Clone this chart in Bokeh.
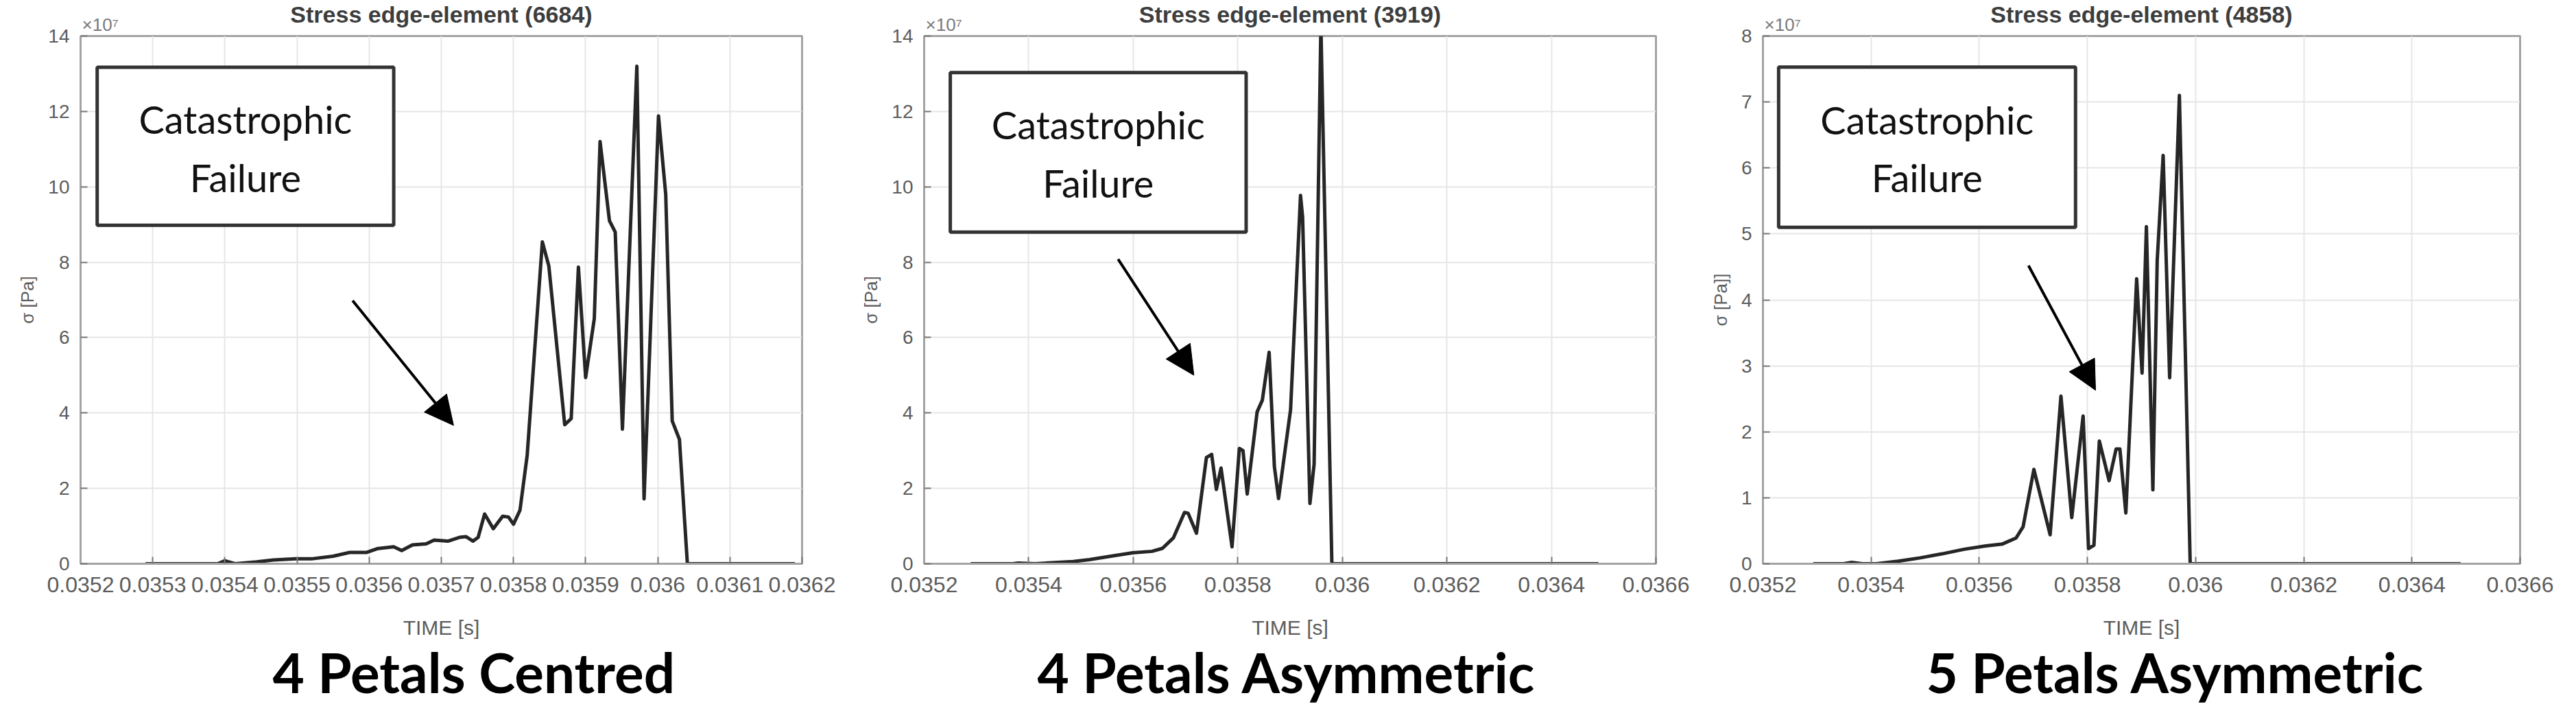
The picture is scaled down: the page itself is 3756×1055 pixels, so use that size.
from bokeh.plotting import figure
from bokeh.layouts import row
from bokeh.models import Range1d, FixedTicker, Label, BoxAnnotation, Arrow, NormalHead, Title
from bokeh.embed import file_html
from bokeh.resources import INLINE

# ---------------- data (stress in units of 1e7 Pa, time in s) ----------------
time_6684 = [0.03529, 0.03539, 0.03540, 0.035414, 0.035444, 0.035467, 0.035498, 0.03552,
             0.03555, 0.035573, 0.035596, 0.035611, 0.035634, 0.035645, 0.03566, 0.035679,
             0.03569, 0.035709, 0.035725, 0.035734, 0.035744, 0.035751, 0.03576, 0.035772,
             0.035785, 0.035793, 0.0358, 0.035809, 0.035819, 0.03584, 0.035849, 0.035871,
             0.03588, 0.03589, 0.0359, 0.035912, 0.03592, 0.035933, 0.035941, 0.035951,
             0.035971, 0.035981, 0.036001, 0.036011, 0.03602, 0.03603, 0.036041, 0.03619]
stress_6684 = [0, 0, 0.08, 0.0, 0.05, 0.1, 0.13, 0.13,
               0.2, 0.3, 0.3, 0.4, 0.45, 0.35, 0.5, 0.53,
               0.63, 0.6, 0.7, 0.72, 0.6, 0.7, 1.32, 0.93,
               1.26, 1.24, 1.05, 1.42, 2.88, 8.54, 7.9, 3.69,
               3.85, 7.87, 4.94, 6.5, 11.2, 9.1, 8.8, 3.57,
               13.2, 1.72, 11.88, 9.8, 3.79, 3.3, 0, 0]

time_3919 = [0.035289, 0.03537, 0.03538, 0.035412, 0.035485, 0.035516, 0.035557, 0.035599,
             0.035636, 0.035656, 0.035677, 0.035698, 0.035705, 0.035721, 0.03574, 0.03575,
             0.035759, 0.035768, 0.035789, 0.035803, 0.03581, 0.035818, 0.035837, 0.035847,
             0.03586, 0.03587, 0.035878, 0.035901, 0.03592, 0.035924, 0.035938, 0.035946,
             0.035959, 0.03598, 0.03649]
stress_3919 = [0, 0, 0.02, 0, 0.06, 0.11, 0.2, 0.29,
               0.33, 0.41, 0.69, 1.36, 1.34, 0.81, 2.82, 2.9,
               1.97, 2.54, 0.45, 3.06, 3.0, 1.85, 4.03, 4.34,
               5.61, 2.58, 1.73, 4.09, 9.77, 9.2, 1.6, 2.64,
               14.3, 0, 0]

time_4858 = [0.035293, 0.035349, 0.035364, 0.035384, 0.03541, 0.03545, 0.035491, 0.035531,
             0.035572, 0.035612, 0.035643, 0.035668, 0.035681, 0.035701, 0.035731, 0.035751,
             0.035771, 0.035792, 0.035802, 0.035812, 0.035822, 0.03584, 0.035853, 0.03586,
             0.035871, 0.035891, 0.035901, 0.035909, 0.035921, 0.035929, 0.03594, 0.035952,
             0.03597, 0.03599, 0.03649]
stress_4858 = [0, 0, 0.02, 0, 0, 0.04, 0.09, 0.15,
               0.22, 0.27, 0.3, 0.39, 0.56, 1.43, 0.44, 2.54,
               0.7, 2.24, 0.23, 0.28, 1.86, 1.26, 1.74, 1.74,
               0.77, 4.32, 2.89, 5.11, 1.12, 4.6, 6.19, 2.82,
               7.1, 0, 0]

x_ticks_a = [0.0352, 0.0353, 0.0354, 0.0355, 0.0356, 0.0357, 0.0358, 0.0359, 0.036, 0.0361, 0.0362]
x_tick_labels_a = ["0.0352", "0.0353", "0.0354", "0.0355", "0.0356", "0.0357", "0.0358",
                   "0.0359", "0.036", "0.0361", "0.0362"]
x_ticks_b = [0.0352, 0.0354, 0.0356, 0.0358, 0.036, 0.0362, 0.0364, 0.0366]
x_tick_labels_b = ["0.0352", "0.0354", "0.0356", "0.0358", "0.036", "0.0362", "0.0364", "0.0366"]
y_ticks_a = [0, 2, 4, 6, 8, 10, 12, 14]
y_ticks_b = [0, 1, 2, 3, 4, 5, 6, 7, 8]

titles = ["Stress edge-element (6684)", "Stress edge-element (3919)", "Stress edge-element (4858)"]
captions = ["4 Petals Centred", "4 Petals Asymmetric", "5 Petals Asymmetric"]
y_labels = ["σ [Pa]", "σ [Pa]", "σ [Pa]]"]
x_label = "TIME [s]"
exponent = "×10⁷"
box_lines = ["Catastrophic", "Failure"]

# ---------------- styling helpers ----------------
AX_COL = "#a3a3a3"
TXT_COL = "#5c5c5c"
TICK_FONT = "Liberation Sans"


def panel(t, s, xr, yr, xticks, xlabels, yticks, title, caption, ylabel,
          width, left, right, top, frame_h, box, arrow, caption_dx):
    height = 1039
    p = figure(width=width, height=height, output_backend="svg", toolbar_location=None,
               x_range=Range1d(*xr), y_range=Range1d(*yr), title=title,
               min_border_left=left, min_border_right=right,
               min_border_top=top, min_border_bottom=height - top - frame_h,
               background_fill_color="white", border_fill_color="white")
    p.outline_line_color = AX_COL
    p.outline_line_width = 3

    # panel title (outermost)
    p.title.align = "center"
    p.title.standoff = -47
    p.title.text_font = TICK_FONT
    p.title.text_font_size = "34px"
    p.title.text_font_style = "bold"
    p.title.text_color = "#3d3d3d"
    # exponent marker (nearest the frame)
    p.add_layout(Title(text=exponent, align="left", offset=2, standoff=4,
                       text_font=TICK_FONT, text_font_size="26px",
                       text_font_style="normal", text_color="#7a7a7a"), "above")

    p.line(t, s, line_color="#262626", line_width=5, line_join="round")

    for ax in (p.xaxis[0], p.yaxis[0]):
        ax.axis_line_color = AX_COL
        ax.axis_line_width = 3
        ax.major_tick_in = 10
        ax.major_tick_out = 0
        ax.major_tick_line_color = "#7a7a7a"
        ax.major_tick_line_width = 2
        ax.minor_tick_line_color = None
        ax.major_label_text_color = TXT_COL
        ax.major_label_text_font = TICK_FONT
        ax.axis_label_text_color = TXT_COL
        ax.axis_label_text_font = TICK_FONT
        ax.axis_label_text_font_style = "normal"

    p.xaxis.ticker = FixedTicker(ticks=xticks)
    p.xaxis.major_label_overrides = dict(zip(xticks, xlabels))
    p.xaxis.major_label_text_font_size = "32px"
    p.xaxis.major_label_standoff = 19
    p.xaxis.axis_label = x_label
    p.xaxis.axis_label_text_font_size = "30px"
    p.xaxis.axis_label_standoff = 32

    p.yaxis.ticker = FixedTicker(ticks=yticks)
    p.yaxis.major_label_text_font_size = "28px"
    p.yaxis.major_label_standoff = 16
    p.yaxis.axis_label = ylabel
    p.yaxis.axis_label_text_font_size = "26px"
    p.yaxis.axis_label_standoff = 12

    p.xgrid.ticker = FixedTicker(ticks=xticks)
    p.ygrid.ticker = FixedTicker(ticks=yticks)
    for g in (p.xgrid[0], p.ygrid[0]):
        g.grid_line_color = "#e6e6e6"
        g.grid_line_width = 2

    # caption below the axis
    p.add_layout(Title(text=caption, align="left", offset=caption_dx, standoff=-10,
                       text_font="Lato", text_font_style="bold", text_font_size="80px",
                       text_color="#000000"), "below")

    # annotation box
    bl, br, bt, bb, l1y, l2y = box
    p.add_layout(BoxAnnotation(left=bl, right=br, top=bt, bottom=bb, fill_color="white",
                               fill_alpha=1.0, line_color="#333333", line_alpha=1.0,
                               line_width=5))
    bx = (bl + br) / 2
    for txt, ly in zip(box_lines, (l1y, l2y)):
        p.add_layout(Label(x=bx, y=ly, text=txt, text_align="center", text_baseline="middle",
                           text_font="Lato", text_font_size="56px", text_color="#111111"))
    xs, ys, xe, ye = arrow
    p.add_layout(Arrow(end=NormalHead(size=42, fill_color="black", line_color="black"),
                       x_start=xs, y_start=ys, x_end=xe, y_end=ye,
                       line_color="black", line_width=4))
    return p


p1 = panel(time_6684, stress_6684, (0.0352, 0.0362), (0, 14), x_ticks_a, x_tick_labels_a,
           y_ticks_a, titles[0], captions[0], y_labels[0],
           width=1252, left=117, right=83, top=48, frame_h=773,
           box=(0.035223, 0.035634, 13.17, 8.98, 11.8, 10.25),
           arrow=(0.035577, 6.98, 0.035717, 3.67), caption_dx=280)
p2 = panel(time_3919, stress_3919, (0.0352, 0.0366), (0, 14), x_ticks_b, x_tick_labels_b,
           y_ticks_a, titles[1], captions[1], y_labels[1],
           width=1238, left=90, right=76, top=49, frame_h=773,
           box=(0.03525, 0.035816, 13.03, 8.8, 11.65, 10.1),
           arrow=(0.035571, 8.08, 0.035716, 5.0), caption_dx=165)
p3 = panel(time_4858, stress_4858, (0.0352, 0.0366), (0, 8), x_ticks_b, x_tick_labels_b,
           y_ticks_b, titles[2], captions[2], y_labels[2],
           width=1250, left=76, right=66, top=52, frame_h=774,
           box=(0.035229, 0.035778, 7.53, 5.1, 6.73, 5.86),
           arrow=(0.035691, 4.52, 0.035815, 2.63), caption_dx=238)

layout = row(p1, p2, p3, spacing=0)
open("out.html", "w").write(file_html(layout, INLINE))
